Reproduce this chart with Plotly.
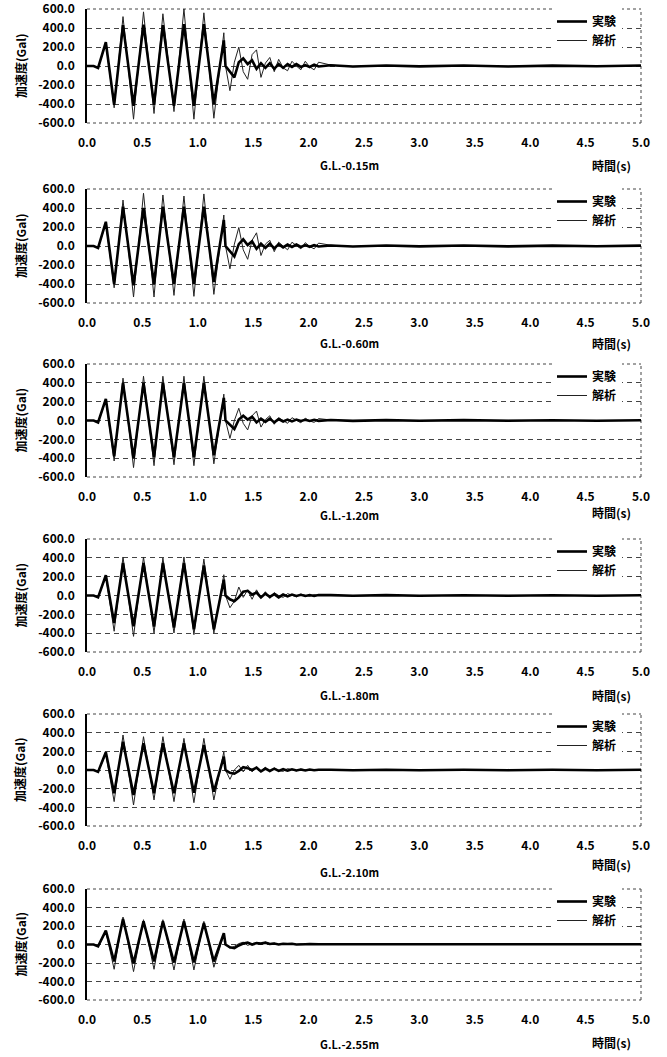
import plotly.graph_objects as go

# ---------------- data ----------------
TIME = [0.00, 0.06, 0.10, 0.17, 0.245, 0.325, 0.42, 0.51, 0.605, 0.685, 0.785, 0.875, 0.965, 1.055, 1.145, 1.235,
        1.25, 1.29, 1.33, 1.37, 1.41, 1.45, 1.49, 1.53, 1.57, 1.61, 1.65, 1.69, 1.73, 1.77, 1.81, 1.85, 1.89, 1.93,
        1.97, 2.01, 2.05, 2.09,
        2.2, 2.4, 2.7, 3.0, 3.4, 3.8, 4.2, 4.6, 5.0]

# G.L.-0.15m
EXP_015 = [0, 0, -20, 250, -410, 430, -420, 435, -410, 430, -420, 440, -420, 440, -400, 270,
           0, -60, -120, 40, 80, 20, 60, -30, 30, -20, 30, -30, 20, -20, 20, -10, 20, -10, 10, -10, 15, -5,
           8, -5, 6, -4, 5, -5, 4, -3, 5]
ANA_015 = [0, 0, -25, 240, -440, 520, -560, 570, -500, 550, -480, 600, -560, 560, -550, 350,
           0, -260, 40, 200, -60, -140, 120, 170, -120, 30, 90, -60, 70, -20, -50, 50, 0, -40, 50, -10, -40, 40,
           10, -8, 5, -3, 3, -2, 2, -2, 0]
# G.L.-0.60m
EXP_060 = [0, 0, -20, 255, -400, 414, -414, 400, -400, 414, -400, 414, -400, 414, -380, 273,
           0, -50, -110, 20, 70, 10, 50, -30, 25, -20, 25, -25, 20, -15, 15, -10, 15, -10, 10, -8, 10, -5,
           6, -5, 5, -4, 5, -4, 4, -3, 4]
ANA_060 = [0, 0, -25, 240, -440, 484, -537, 555, -537, 537, -520, 526, -530, 548, -509, 326,
           0, -240, 20, 195, -40, -140, 60, 139, -100, 20, 60, -60, 40, 0, -40, 40, 0, -30, 35, -5, -30, 30,
           8, -6, 4, -3, 3, -2, 2, -1, 0]
# G.L.-1.20m
EXP_120 = [0, 0, -20, 230, -380, 400, -400, 400, -390, 400, -390, 400, -390, 400, -370, 240,
           0, -40, -90, 10, 50, 10, 40, -20, 20, -15, 20, -20, 15, -10, 10, -10, 10, -5, 8, -5, 8, -4,
           5, -4, 4, -3, 4, -3, 3, -3, 3]
ANA_120 = [0, 0, -25, 215, -430, 450, -500, 470, -480, 470, -470, 470, -480, 470, -460, 280,
           0, -190, 0, 130, -30, -100, 50, 100, -70, 10, 50, -40, 30, 0, -30, 30, 0, -25, 25, -5, -20, 20,
           6, -5, 3, -2, 2, -2, 1, -1, 0]
# G.L.-1.80m
EXP_180 = [0, 0, -20, 215, -292, 345, -327, 345, -330, 345, -340, 345, -360, 320, -360, 168,
           0, -40, -60, -20, 40, 50, 10, 30, -20, 20, -15, 15, -20, 10, -10, 10, -5, 8, -5, 5, -5, 5,
           4, -3, 4, -3, 3, -3, 3, -2, 3]
ANA_180 = [0, 0, -20, 200, -380, 409, -434, 409, -398, 398, -398, 409, -416, 387, -398, 221,
           0, -130, -60, 90, -20, 60, -40, 60, -20, 40, -30, 30, 0, -20, 20, 0, -15, 15, 0, -10, 10, 0,
           4, -3, 2, -2, 1, -1, 1, -1, 0]
# G.L.-2.10m
EXP_210 = [0, 0, -20, 190, -250, 304, -268, 286, -250, 286, -250, 286, -243, 268, -232, 143,
           0, -30, -40, -10, 30, 20, 0, 25, -15, 15, -10, 15, -10, 8, -8, 8, -5, 5, -5, 5, -3, 3,
           3, -3, 3, -2, 3, -2, 2, -2, 2]
ANA_210 = [0, 0, -20, 170, -339, 375, -375, 357, -321, 357, -339, 339, -350, 339, -321, 196,
           0, -100, 0, 50, -20, 50, -20, 30, -10, 30, -20, 20, -5, -15, 15, 0, -10, 10, 0, -5, 5, 0,
           3, -2, 2, -1, 1, -1, 1, -1, 0]
# G.L.-2.55m
EXP_255 = [0, 0, -20, 150, -184, 275, -203, 250, -184, 250, -195, 250, -195, 231, -184, 123,
           0, -30, -40, -10, 10, 20, 0, 15, 10, 20, 5, 10, 0, 8, 5, 8, 0, 5, 3, 5, 0, 3,
           3, 2, 3, 1, 3, 2, 2, 1, 2]
ANA_255 = [0, 0, -20, 140, -268, 297, -293, 268, -268, 268, -275, 275, -275, 250, -246, 105,
           0, -40, -20, 10, 25, -10, 10, 20, 0, 25, 10, 15, 0, 10, 5, 8, 0, 5, 0, 3, 0, 3,
           2, 1, 1, 0, 1, 0, 1, 0, 0]

DEPTH_LABELS = ["G.L.-0.15m", "G.L.-0.60m", "G.L.-1.20m", "G.L.-1.80m", "G.L.-2.10m", "G.L.-2.55m"]
EXP_SERIES = [EXP_015, EXP_060, EXP_120, EXP_180, EXP_210, EXP_255]
ANA_SERIES = [ANA_015, ANA_060, ANA_120, ANA_180, ANA_210, ANA_255]
SERIES_NAMES = ["実験", "解析"]

X_TICKS = [0.0, 0.5, 1.0, 1.5, 2.0, 2.5, 3.0, 3.5, 4.0, 4.5, 5.0]
X_TICK_TEXT = ["0.0", "0.5", "1.0", "1.5", "2.0", "2.5", "3.0", "3.5", "4.0", "4.5", "5.0"]
Y_TICKS = [-600, -400, -200, 0, 200, 400, 600]
Y_TICK_TEXT = ["-600.0", "-400.0", "-200.0", "0.0", "200.0", "400.0", "600.0"]
Y_TITLE = "加速度(Gal)"
X_TITLE = "時間(s)"

# ---------------- layout geometry (window pixels) ----------------
W, H = 667, 1057
TOPS = [9, 189, 364, 539, 714, 889]
BOTS = [123, 303, 477, 652, 826, 1000]
GL_Y = [165, 343, 515, 695, 872, 1044]
TIME_Y = [165, 343, 512, 695, 865, 1042]
X_LEFT, X_RIGHT = 87, 641

FONT = "Noto Sans CJK JP, Noto Sans, sans-serif"
bold12 = dict(family=FONT, size=12, color="black", weight="bold")


def py(px):
    return 1 - px / H


def px_(x):
    return x / W


fig = go.Figure()
annotations = []
shapes = []
layout_extra = {}

for i in range(6):
    n = i + 1
    xa = "x" if n == 1 else f"x{n}"
    ya = "y" if n == 1 else f"y{n}"
    lg = "legend" if n == 1 else f"legend{n}"

    fig.add_trace(go.Scatter(
        x=TIME, y=ANA_SERIES[i], mode="lines", name=SERIES_NAMES[1],
        line=dict(color="#222222", width=1), xaxis=xa, yaxis=ya, legend=lg, legendrank=2))
    fig.add_trace(go.Scatter(
        x=TIME, y=EXP_SERIES[i], mode="lines", name=SERIES_NAMES[0],
        line=dict(color="black", width=2.6), xaxis=xa, yaxis=ya, legend=lg, legendrank=1))

    layout_extra["xaxis" if n == 1 else f"xaxis{n}"] = dict(
        domain=[px_(X_LEFT), px_(X_RIGHT)], anchor=ya, range=[0, 5],
        tickmode="array", tickvals=X_TICKS, ticktext=X_TICK_TEXT,
        ticks="outside", ticklen=9, tickcolor="rgba(0,0,0,0)",
        showgrid=False, zeroline=False, showline=False, automargin=False,
        tickfont=bold12, fixedrange=True)
    layout_extra["yaxis" if n == 1 else f"yaxis{n}"] = dict(
        domain=[py(BOTS[i]), py(TOPS[i])], anchor=xa, range=[-600, 600],
        tickmode="array", tickvals=Y_TICKS, ticktext=Y_TICK_TEXT,
        ticks="outside", ticklen=8, tickcolor="rgba(0,0,0,0)",
        showgrid=True, gridcolor="#444444", gridwidth=1, griddash="5px,4px",
        zeroline=False, showline=True, linecolor="black", linewidth=1.5, automargin=False,
        ticklabeloverflow="allow",
        tickfont=bold12, fixedrange=True)
    layout_extra[lg] = dict(
        x=px_(552), y=py(TOPS[i] - 2), xanchor="left", yanchor="top",
        bgcolor="white", borderwidth=0, font=bold12, itemwidth=30,
        tracegroupgap=0, traceorder="normal")

    # frame: dotted top, bottom and right edges
    for (x0, x1, y0, y1) in [(1, 1, 0, 1), (0, 1, 1, 1), (0, 1, 0, 0)]:
        shapes.append(dict(type="line", xref=f"{xa} domain", yref=f"{ya} domain",
                           x0=x0, x1=x1, y0=y0, y1=y1, layer="below",
                           line=dict(color="#444444", width=1, dash="dot")))

    annotations.append(dict(text=Y_TITLE, xref="paper", yref="paper",
                            x=px_(20), y=py((TOPS[i] + BOTS[i]) / 2), textangle=-90,
                            showarrow=False, font=dict(family=FONT, size=12, color="black", weight="bold"),
                            xanchor="center", yanchor="middle"))
    annotations.append(dict(text=DEPTH_LABELS[i], xref="paper", yref="paper",
                            x=px_(350), y=py(GL_Y[i]), showarrow=False,
                            font=dict(family=FONT, size=11, color="black", weight="bold"),
                            xanchor="center", yanchor="middle"))
    annotations.append(dict(text=X_TITLE, xref="paper", yref="paper",
                            x=px_(611), y=py(TIME_Y[i]), showarrow=False,
                            font=dict(family=FONT, size=12, color="black", weight="bold"),
                            xanchor="center", yanchor="middle"))

fig.update_layout(
    width=W, height=H, margin=dict(l=0, r=0, t=0, b=0, autoexpand=False),
    paper_bgcolor="white", plot_bgcolor="white",
    showlegend=True, annotations=annotations, shapes=shapes,
    **layout_extra)

# the page body gets no margin, so the figure fills the window exactly
fig.write_html("out.html", config={"displayModeBar": False},
               post_script="document.body.style.margin='0px';")
